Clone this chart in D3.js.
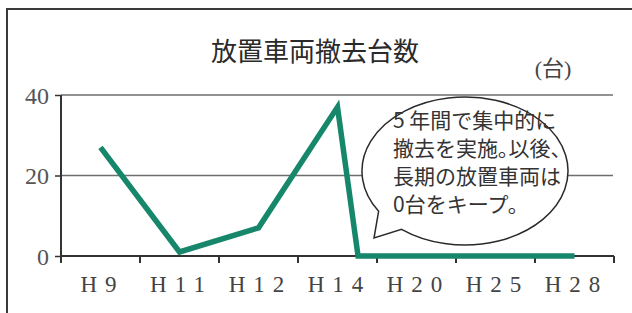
<!DOCTYPE html>
<html><head><meta charset="utf-8">
<script src="https://cdn.jsdelivr.net/npm/d3@7"></script>
<style>html,body{margin:0;padding:0;background:#fff;}svg{display:block;}</style>
</head><body>
<script>
const categories = ["H9","H11","H12","H14","H20","H25","H28"];
// position of each line vertex along the category axis (index units) and value
const pointPos = [0, 1, 2, 3, 3.26, 6];
const pointValues = [27, 1, 7, 37, 0, 0];
const yTicks = [0, 20, 40];
const titleText = "放置車両撤去台数";
const unitText = "(台)";
const calloutLines = ["5 年間で集中的に", "撤去を実施｡以後、", "長期の放置車両は", "0台をキープ。"];

const W = 632, H = 313;
const svg = d3.select("body").append("svg").attr("width", W).attr("height", H);

// frame
svg.append("path").attr("d", `M7,${H} V9 H${W}`).attr("fill","none").attr("stroke","#3a3a3a").attr("stroke-width",2);

const x = d3.scaleBand().domain(categories).range([61, 614]);
const bw = x.bandwidth();
const xi = d3.scaleLinear().domain([0, categories.length - 1])
  .range([x(categories[0]) + bw/2, x(categories[categories.length-1]) + bw/2]);
const y = d3.scaleLinear().domain([0, 40]).range([256, 95]);

// gridlines
svg.append("g").selectAll("line").data(yTicks.filter(d => d > 0)).join("line")
  .attr("x1", 61).attr("x2", 613).attr("y1", d => y(d)).attr("y2", d => y(d))
  .attr("stroke", "#6e6e6e").attr("stroke-width", 1.5);

// y axis
const ya = svg.append("g").attr("transform", "translate(61,0)")
  .call(d3.axisLeft(y).tickValues(yTicks).tickSize(6).tickPadding(6).tickFormat(d3.format("d")));
ya.select(".domain").attr("stroke", "#333").attr("stroke-width", 2).attr("d", `M0,${y(40)}V${y(0)+6}`);
ya.selectAll(".tick line").attr("stroke", "#333").attr("stroke-width", 1.5);
ya.selectAll(".tick text").attr("font-family", "Liberation Serif").attr("font-size", 24)
  .attr("fill", "#555").attr("dy", "0.34em");

// x axis
const xa = svg.append("g").attr("transform", `translate(0,${y(0)})`)
  .call(d3.axisBottom(x).tickSize(0).tickFormat(""));
xa.select(".domain").attr("stroke", "#333").attr("stroke-width", 2).attr("d", `M61,0H614`);
const bounds = categories.map(c => x(c)).concat([x(categories[categories.length-1]) + bw]);
xa.selectAll("line.bt").data(bounds).join("line").attr("class","bt")
  .attr("x1", d => d).attr("x2", d => d).attr("y1", 0).attr("y2", 7)
  .attr("stroke", "#333").attr("stroke-width", 2);

const lbl = svg.append("g").selectAll("text").data(categories).join("text")
  .attr("x", d => x(d) + bw/2 + 2).attr("y", 292)
  .attr("text-anchor", "middle").attr("font-family", "Liberation Serif")
  .attr("font-size", 23).attr("fill", "#444");
lbl.append("tspan").text("H");
lbl.append("tspan").attr("dx", 8).style("letter-spacing", "8px").text(d => d.slice(1));

// title and unit
svg.append("text").attr("x", 315).attr("y", 61).attr("text-anchor", "middle")
  .attr("font-family", "Noto Sans CJK JP").attr("font-size", 26).attr("fill", "#2a2a2a").text(titleText);
svg.append("text").attr("x", 553).attr("y", 76).attr("text-anchor", "middle")
  .attr("font-family", "Liberation Serif, Noto Sans CJK JP").attr("font-size", 22).attr("fill", "#444").text(unitText);

// line
const line = d3.line().x((d, i) => xi(pointPos[i])).y(d => y(d));
svg.append("path").datum(pointValues).attr("d", line).attr("fill", "none")
  .attr("stroke", "#16876a").attr("stroke-width", 5.5).attr("stroke-linejoin", "miter");

// speech bubble
const cx = 465, cy = 171, rx = 103, ry = 74;
const pt = a => [cx + rx*Math.cos(a*Math.PI/180), cy + ry*Math.sin(a*Math.PI/180)];
const A = pt(128), B = pt(147), tip = [374, 238];
svg.append("path")
  .attr("d", `M${A[0]},${A[1]} A${rx},${ry} 0 1 0 ${B[0]},${B[1]} L${tip[0]},${tip[1]} Z`)
  .attr("fill", "#fff").attr("stroke", "#2a2a2a").attr("stroke-width", 1.5);

const ct = svg.append("text").attr("font-family", "Noto Sans CJK JP").attr("font-size", 21).attr("fill", "#333");
calloutLines.forEach((s, i) => {
  ct.append("tspan").attr("x", 393).attr("y", 128 + i*28).text(s);
});
</script>
</body></html>
